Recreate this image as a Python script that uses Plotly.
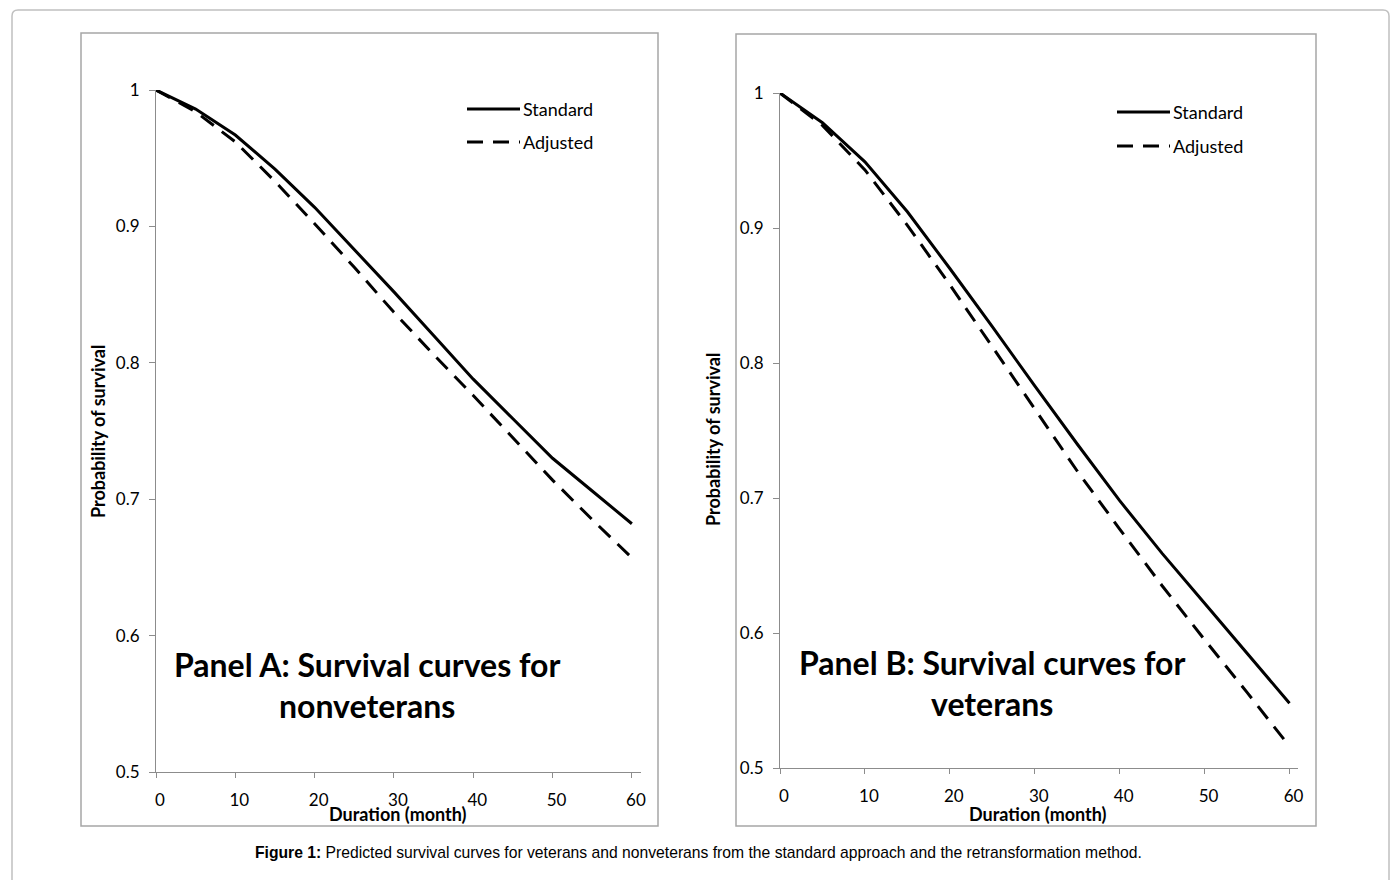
import plotly.graph_objects as go

W, H = 1399, 880
OFF = 8  # page body margin offset compensation

# ---- data ----
months = [0, 5, 10, 15, 20, 25, 30, 35, 40, 45, 50, 55, 60]
nonvet_standard = [1.0, 0.986, 0.967, 0.942, 0.914, 0.883, 0.852, 0.820, 0.788, 0.759, 0.730, 0.706, 0.682]
nonvet_adjusted = [1.0, 0.984, 0.962, 0.933, 0.902, 0.870, 0.837, 0.806, 0.776, 0.745, 0.714, 0.685, 0.657]
vet_standard = [1.0, 0.978, 0.949, 0.912, 0.870, 0.827, 0.783, 0.740, 0.698, 0.659, 0.622, 0.585, 0.548]
vet_adjusted = [1.0, 0.976, 0.943, 0.902, 0.858, 0.812, 0.766, 0.720, 0.677, 0.635, 0.595, 0.556, 0.516]
x_ticks = [0, 10, 20, 30, 40, 50, 60]
y_ticks = [0.5, 0.6, 0.7, 0.8, 0.9, 1.0]
y_ticklabels = ["0.5", "0.6", "0.7", "0.8", "0.9", "1"]
series_names = ["Standard", "Adjusted"]

def px_x(p):
    return (p - OFF) / W

def px_y(p):
    return 1 - (p - OFF) / H

FONT = "Lato"
AX = "#8c8c8c"
DASH = "16px,10px"

fig = go.Figure()
line_solid = dict(color="black", width=3)
line_dash = dict(color="black", width=3, dash=DASH)

fig.add_trace(go.Scatter(x=months, y=nonvet_standard, mode="lines", line=line_solid,
                         name=series_names[0], xaxis="x", yaxis="y", showlegend=False))
fig.add_trace(go.Scatter(x=months, y=nonvet_adjusted, mode="lines", line=line_dash,
                         name=series_names[1], xaxis="x", yaxis="y", showlegend=False))
fig.add_trace(go.Scatter(x=months, y=vet_standard, mode="lines", line=line_solid,
                         name=series_names[0], xaxis="x2", yaxis="y2", showlegend=False))
fig.add_trace(go.Scatter(x=months, y=vet_adjusted, mode="lines", line=line_dash,
                         name=series_names[1], xaxis="x2", yaxis="y2", showlegend=False))

def xaxis(domain, rng, anchor):
    return dict(domain=domain, range=rng, anchor=anchor, tickvals=x_ticks,
                showline=True, linecolor=AX, linewidth=1, ticks="outside", ticklen=5,
                tickcolor=AX, showgrid=False, zeroline=False, automargin=False,
                tickfont=dict(family=FONT, size=17, color="black"),
                ticklabelstandoff=8, ticklabelshift=4)

def yaxis(domain, anchor):
    return dict(domain=domain, range=[0.5, 1.0], anchor=anchor, tickvals=y_ticks,
                ticktext=y_ticklabels, showline=True, linecolor=AX, linewidth=1,
                ticks="outside", ticklen=6, tickcolor=AX, showgrid=False, zeroline=False,
                automargin=False,
                tickfont=dict(family=FONT, size=17, color="black"),
                ticklabelstandoff=6)

fig.update_layout(
    width=W, height=H,
    margin=dict(l=0, r=0, t=0, b=0, pad=0, autoexpand=False),
    paper_bgcolor="white", plot_bgcolor="white",
    xaxis=xaxis([px_x(156), px_x(641)], [0, 61.15], "y"),
    yaxis=yaxis([px_y(772), px_y(90)], "x"),
    xaxis2=xaxis([px_x(780), px_x(1298)], [0, 61.0], "y2"),
    yaxis2=yaxis([px_y(768), px_y(93)], "x2"),
)

shapes = []
# outer rounded frame
r = 6
L, T, R, B = 12, 10, 1389, 900
shapes.append(dict(type="path", xref="paper", yref="paper",
                   path=f"M {px_x(L)},{px_y(B)} L {px_x(L)},{px_y(T + r)} Q {px_x(L)},{px_y(T)} {px_x(L + r)},{px_y(T)} "
                        f"L {px_x(R - r)},{px_y(T)} Q {px_x(R)},{px_y(T)} {px_x(R)},{px_y(T + r)} L {px_x(R)},{px_y(B)}",
                   line=dict(color="#c0c0c0", width=1.5)))
# panel boxes
for (x0, y0, x1, y1) in [(81, 33, 658, 826), (736, 34, 1316, 826)]:
    shapes.append(dict(type="rect", xref="paper", yref="paper",
                       x0=px_x(x0), x1=px_x(x1), y0=px_y(y1), y1=px_y(y0),
                       line=dict(color="#a6a6a6", width=1.5), fillcolor="rgba(0,0,0,0)"))

annotations = []
# legends (drawn manually)
for (lx0, lx1, ys) in [(467, 520, (109, 142)), (1117, 1170, (112, 146))]:
    for name, yy, dash in zip(series_names, ys, ["solid", DASH]):
        shapes.append(dict(type="line", xref="paper", yref="paper",
                           x0=px_x(lx0), x1=px_x(lx1), y0=px_y(yy), y1=px_y(yy),
                           line=dict(color="black", width=3, dash=dash)))
        annotations.append(dict(text=name, xref="paper", yref="paper", x=px_x(lx1 + 1), y=px_y(yy),
                                xanchor="left", yanchor="middle", showarrow=False,
                                font=dict(family=FONT, size=18, color="black")))

# panel titles
for cx, y1, y2, t1, t2 in [(367, 664, 705, "Panel A: Survival curves for", "nonveterans"),
                           (992, 662, 703, "Panel B: Survival curves for", "veterans")]:
    for yy, t in [(y1, t1), (y2, t2)]:
        annotations.append(dict(text=f"<b>{t}</b>", xref="paper", yref="paper", x=px_x(cx), y=px_y(yy),
                                xanchor="center", yanchor="middle", showarrow=False,
                                font=dict(family=FONT, size=32, color="black")))

# axis titles
for cx, cy in [(98, 432), (713, 440)]:
    annotations.append(dict(text="<b>Probability of survival</b>", xref="paper", yref="paper",
                            x=px_x(cx), y=px_y(cy), textangle=-90, xanchor="center", yanchor="middle",
                            showarrow=False, font=dict(family=FONT, size=18, color="black")))
for cx in [398, 1038]:
    annotations.append(dict(text="<b>Duration (month)</b>", xref="paper", yref="paper",
                            x=px_x(cx), y=px_y(814), xanchor="center", yanchor="middle",
                            showarrow=False, font=dict(family=FONT, size=18, color="black")))

# caption
annotations.append(dict(text="<b>Figure 1:</b> Predicted survival curves for veterans and nonveterans from the standard approach and the retransformation method.",
                        xref="paper", yref="paper", x=px_x(698), y=px_y(852), xanchor="center", yanchor="middle",
                        showarrow=False, font=dict(family="Liberation Sans", size=15.7, color="black")))

fig.update_layout(shapes=shapes, annotations=annotations)
fig.write_html("out.html")
